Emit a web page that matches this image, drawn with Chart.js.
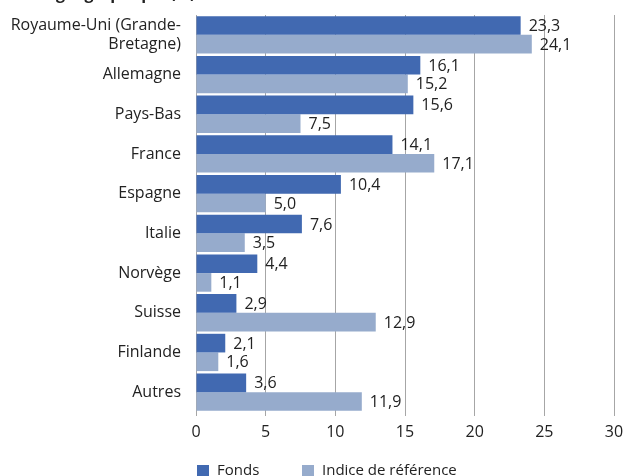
<!DOCTYPE html>
<html>
<head>
<meta charset="utf-8">
<script src="https://cdn.jsdelivr.net/npm/chart.js@4.4.0/dist/chart.umd.min.js"></script>
<style>
  html, body { margin: 0; padding: 0; background: #fff; overflow: hidden; }
  #wrap { position: absolute; left: 0; top: -16px; width: 624px; height: 500px; }
</style>
</head>
<body>
<div id="wrap"><canvas id="chart"></canvas></div>
<script>
// Données
const titlePrefix = "Zone ";
const titleText = "géographique (%)";
const categories = [
  ["Royaume-Uni (Grande-", "Bretagne)"],
  "Allemagne", "Pays-Bas", "France", "Espagne",
  "Italie", "Norvège", "Suisse", "Finlande", "Autres"
];
const fondsValues = [23.3, 16.1, 15.6, 14.1, 10.4, 7.6, 4.4, 2.9, 2.1, 3.6];
const indiceValues = [24.1, 15.2, 7.5, 17.1, 5.0, 3.5, 1.1, 12.9, 1.6, 11.9];
const seriesNames = ["Fonds", "Indice de référence"];
const seriesColors = ["#4169b1", "#96abcc"];

const fontFamily = "'Open Sans', 'Noto Sans', sans-serif";
const textColor = "#222222";

const fmt = (v) => v.toFixed(1).replace(".", ",");

// Étiquettes de valeur à droite des barres
const valueLabels = {
  id: "valueLabels",
  afterDatasetsDraw(chart) {
    const ctx = chart.ctx;
    ctx.save();
    ctx.font = "16px " + fontFamily;
    ctx.fillStyle = textColor;
    ctx.textAlign = "left";
    ctx.textBaseline = "middle";
    chart.data.datasets.forEach((ds, di) => {
      chart.getDatasetMeta(di).data.forEach((bar, i) => {
        ctx.fillText(fmt(ds.data[i]), bar.x + 8, bar.y + 1);
      });
    });
    ctx.restore();
  }
};

// Titre (coupé en haut comme dans l'original)
const titlePlugin = {
  id: "titlePlugin",
  afterDraw(chart) {
    const ctx = chart.ctx;
    ctx.save();
    ctx.font = "bold 16px " + fontFamily;
    ctx.fillStyle = textColor;
    ctx.textAlign = "left";
    ctx.textBaseline = "alphabetic";
    const x0 = 56 - ctx.measureText(titlePrefix).width;
    ctx.fillText(titlePrefix + titleText, x0, 15);
    ctx.restore();
  }
};

// Légende dessinée à la main
const legendPlugin = {
  id: "legendPlugin",
  afterDraw(chart) {
    const ctx = chart.ctx;
    ctx.save();
    ctx.font = "15px " + fontFamily;
    ctx.textBaseline = "middle";
    ctx.textAlign = "left";
    let x = 197;
    const y = 487;
    chart.data.datasets.forEach((ds) => {
      ctx.fillStyle = ds.backgroundColor;
      ctx.fillRect(x, y - 6, 12, 12);
      ctx.fillStyle = textColor;
      ctx.fillText(ds.label, x + 20, y);
      x = 302;
    });
    ctx.restore();
  }
};

new Chart(document.getElementById("chart"), {
  type: "bar",
  plugins: [valueLabels, titlePlugin, legendPlugin],
  data: {
    labels: categories,
    datasets: [
      { label: seriesNames[0], data: fondsValues, backgroundColor: seriesColors[0] },
      { label: seriesNames[1], data: indiceValues, backgroundColor: seriesColors[1] }
    ]
  },
  options: {
    indexAxis: "y",
    responsive: true,
    maintainAspectRatio: false,
    animation: false,
    layout: { padding: { top: 31, right: 10, left: 0, bottom: 0 } },
    datasets: { bar: { categoryPercentage: 0.94, barPercentage: 1 } },
    plugins: {
      legend: { display: false },
      tooltip: { enabled: false },
      title: { display: false }
    },
    scales: {
      x: {
        min: 0,
        max: 30,
        ticks: { stepSize: 5, color: textColor, font: { family: fontFamily, size: 16 }, padding: 7 },
        grid: { color: "#a6a6a6", lineWidth: 1, tickLength: 4 },
        border: { display: false },
        afterFit: (scale) => {
          scale.height = 72;
          scale.paddingLeft = 0;
          scale.paddingRight = 0;
        }
      },
      y: {
        ticks: { color: textColor, font: { family: fontFamily, size: 16 }, padding: 15, autoSkip: false },
        grid: { display: false, drawTicks: false },
        border: { color: "#a6a6a6", width: 1 },
        afterFit: (scale) => { scale.width = 196; }
      }
    }
  }
});
</script>
</body>
</html>
